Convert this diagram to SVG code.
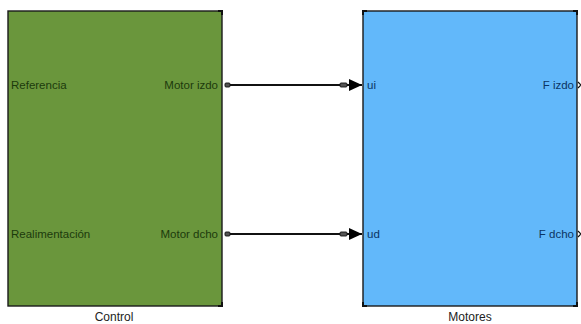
<svg xmlns="http://www.w3.org/2000/svg" width="581" height="324" viewBox="0 0 581 324">
<style>
.lbl{font-family:"Liberation Sans",Arial,sans-serif;font-size:11.5px}
.g{fill:#1c3a0c}
.b{fill:#0b3463}
.cap{font-family:"Liberation Sans",Arial,sans-serif;font-size:12px;fill:#222;text-anchor:middle}
.wire{stroke:#111;stroke-width:1.8;fill:none}
.port{fill:#555;stroke:#111;stroke-width:0.9}
.corner{fill:none;stroke:#111;stroke-width:2}
</style>
<defs>
<marker id="arr" markerWidth="14" markerHeight="12" refX="13" refY="6" orient="auto" markerUnits="userSpaceOnUse">
<path d="M0,0 L13,6 L0,12 Z" fill="#000"/>
</marker>
</defs>
<g id="control">
<rect x="8" y="11" width="214" height="295" fill="#6a963c" stroke="#1a1a1a" stroke-width="1.4"/>
<path class="corner" d="M218,11 H222 V15"/>
<path class="corner" d="M218,306 H222 V302"/>
<text class="lbl g" x="11" y="89">Referencia</text>
<text class="lbl g" x="11" y="238">Realimentación</text>
<text class="lbl g" x="218" y="89" text-anchor="end">Motor izdo</text>
<text class="lbl g" x="218" y="238" text-anchor="end">Motor dcho</text>
<text class="cap" x="114" y="321">Control</text>
</g>
<g id="motores">
<rect x="363" y="11" width="214" height="295" fill="#62b8fa" stroke="#1a1a1a" stroke-width="1.4"/>
<path class="corner" d="M363,15 V11 H367"/>
<path class="corner" d="M573,11 H577 V15"/>
<path class="corner" d="M363,302 V306 H367"/>
<path class="corner" d="M573,306 H577 V302"/>
<text class="lbl b" x="367" y="89">ui</text>
<text class="lbl b" x="367" y="238">ud</text>
<text class="lbl b" x="574" y="89" text-anchor="end">F izdo</text>
<text class="lbl b" x="574" y="238" text-anchor="end">F dcho</text>
<path d="M578,82 L581,85 L578,88" fill="none" stroke="#111" stroke-width="1.2"/>
<path d="M578,231 L581,234 L578,237" fill="none" stroke="#111" stroke-width="1.2"/>
<text class="cap" x="470" y="321">Motores</text>
</g>
<g id="connectors">
<line class="wire" x1="226" y1="85" x2="362" y2="85" marker-end="url(#arr)"/>
<line class="wire" x1="226" y1="234" x2="362" y2="234" marker-end="url(#arr)"/>
<rect class="port" x="225" y="83" width="5" height="4" rx="1"/>
<rect class="port" x="340" y="83" width="7" height="4" rx="1"/>
<rect class="port" x="225" y="232" width="5" height="4" rx="1"/>
<rect class="port" x="340" y="232" width="7" height="4" rx="1"/>
</g>
</svg>
